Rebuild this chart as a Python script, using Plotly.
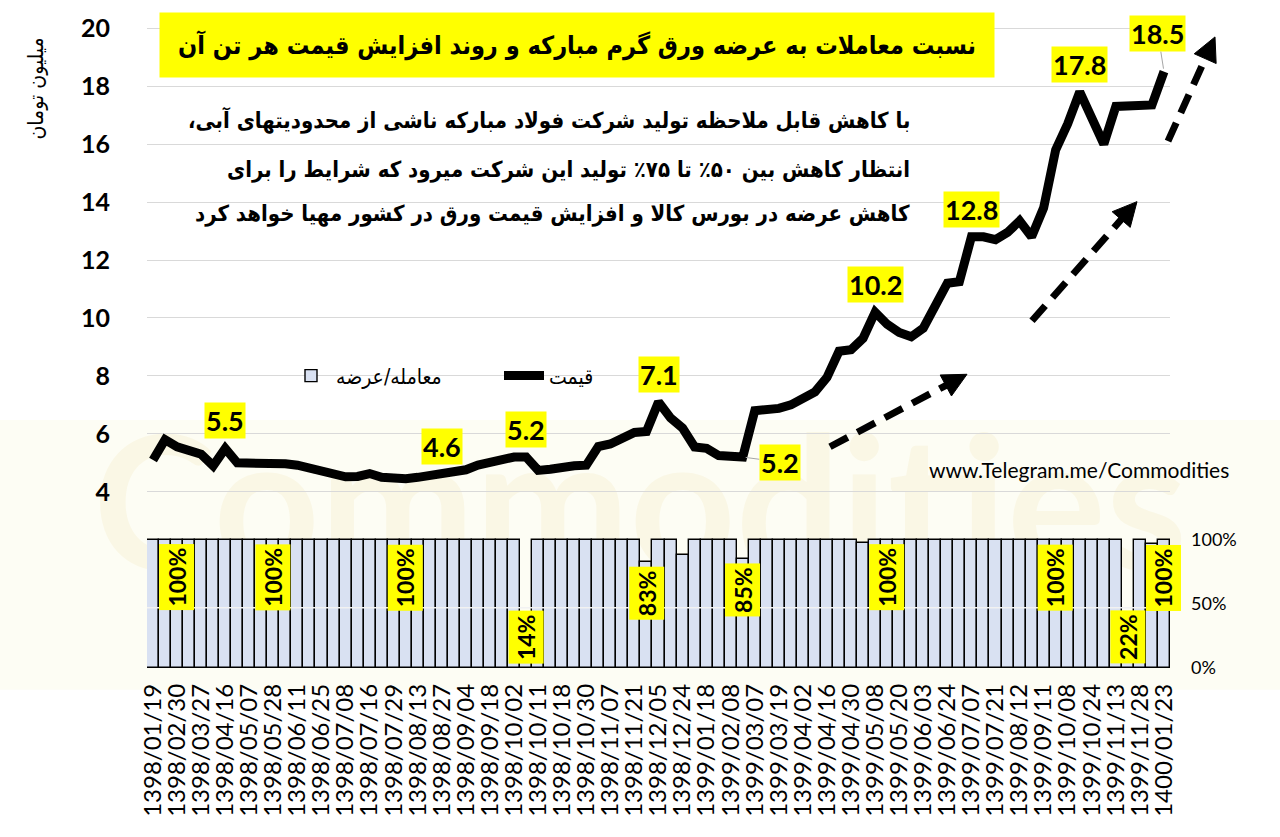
import plotly.graph_objects as go

# ---- data -------------------------------------------------------------
tick_dates = [
    "1398/01/19", "1398/02/30", "1398/03/27", "1398/04/16", "1398/05/07",
    "1398/05/28", "1398/06/11", "1398/06/25", "1398/07/08", "1398/07/16",
    "1398/07/29", "1398/08/13", "1398/08/27", "1398/09/04", "1398/09/18",
    "1398/10/02", "1398/10/11", "1398/10/18", "1398/10/30", "1398/11/07",
    "1398/11/21", "1398/12/05", "1398/12/24", "1399/01/18", "1399/02/08",
    "1399/03/07", "1399/03/19", "1399/04/02", "1399/04/16", "1399/04/30",
    "1399/05/08", "1399/05/20", "1399/06/03", "1399/06/24", "1399/07/07",
    "1399/07/21", "1399/08/12", "1399/09/11", "1399/10/08", "1399/10/24",
    "1399/11/13", "1399/11/28", "1400/01/23",
]

# price per tonne (million toman), one value per trading session
price = [
    5.1, 5.8, 5.55, 5.4, 5.3, 4.9, 5.5, 5.0, 5.0, 5.0,
    5.0, 4.97, 4.92, 4.82, 4.7, 4.58, 4.52, 4.53, 4.63, 4.5,
    4.45, 4.45, 4.5, 4.55, 4.6, 4.64, 4.76, 4.92, 5.04, 5.12,
    5.2, 5.2, 4.74, 4.78, 4.86, 4.9, 4.92, 5.56, 5.65, 5.88,
    6.05, 6.08, 7.1, 6.55, 6.2, 5.55, 5.5, 5.25, 5.2, 5.2,
    6.8, 6.82, 6.88, 7.0, 7.2, 7.45, 7.95, 8.85, 8.9, 9.3,
    10.2, 9.78, 9.5, 9.35, 9.65, 10.45, 11.2, 11.25, 12.8, 12.8,
    12.7, 12.95, 13.35, 12.8, 13.8, 15.8, 16.7, 17.8, 16.9, 16.0,
    17.3, 17.3, 17.3, 17.35, 18.5,
]

# traded / offered ratio (%)
ratio = [100] * 85
for idx, val in {31: 14, 41: 83, 44: 88, 49: 85, 59: 98, 81: 22, 83: 97}.items():
    ratio[idx] = val

price_labeled = [6, 24, 31, 42, 49, 60, 68, 77, 84]
ratio_labeled = [2, 10, 21, 31, 41, 49, 61, 75, 81, 84]

n = len(price)
cats = list(range(n))
tick_pos = list(range(0, n, 2))

# ---- geometry helpers -------------------------------------------------
W, H = 1280, 837
ML, MR, MT, MB = 147, 110, 20, 169
PW, PH = W - ML - MR, H - MT - MB


def pxx(x):
    return (x - ML) / PW


def pxy(y):
    return (H - MB - y) / PH


NUM_FONT = "Lato, DejaVu Sans, sans-serif"
FA_FONT = "DejaVu Sans Condensed, DejaVu Sans, sans-serif"
YELLOW = "#FFFF00"
RLM = "\u200f"

fig = go.Figure()

fig.add_trace(go.Bar(
    x=cats, y=ratio, yaxis="y2", name="معامله/عرضه",
    marker=dict(color="#D9E1F2", line=dict(color="black", width=1.4)),
    width=1.0,
))
fig.add_trace(go.Scatter(
    x=cats, y=price, mode="lines", name="قیمت",
    line=dict(color="black", width=9),
))

annotations = []

# value labels on the price line
for i in price_labeled:
    txt = f"{price[i]:.1f}"
    base = dict(x=i, y=price[i], xref="x", yref="y", text=txt,
                font=dict(family=NUM_FONT, size=27, color="black", weight="bold"),
                bgcolor=YELLOW, borderpad=1)
    if i == 49:
        base.update(showarrow=True, ax=37, ay=5, arrowhead=0, arrowwidth=1,
                    arrowcolor="#A6A6A6", standoff=3)
    elif i == n - 1:
        base.update(showarrow=True, ax=-6, ay=-38, arrowhead=0, arrowwidth=1,
                    arrowcolor="#A6A6A6", standoff=3)
    else:
        base.update(showarrow=False, yanchor="bottom", yshift=9)
    annotations.append(base)

# ratio labels inside the bars
for i in ratio_labeled:
    v = ratio[i]
    a = dict(x=i, xref="x", yref="y2", text=f"{v:.0f}%", textangle=-90,
             showarrow=False, bgcolor=YELLOW, borderpad=3,
             font=dict(family=NUM_FONT, size=23, color="black", weight="bold"))
    if v >= 50:
        a.update(y=v, yanchor="top", yshift=-4)
    else:
        a.update(y=0, yanchor="bottom", yshift=4)
    annotations.append(a)

# title
annotations.append(dict(
    x=pxx(577), y=pxy(40), xref="paper", yref="paper", showarrow=False,
    text="نسبت معاملات به عرضه ورق گرم مبارکه و روند افزایش قیمت هر تن آن",
    font=dict(family=FA_FONT, size=25, color="black", weight="bold"),
    bgcolor=YELLOW, width=832, height=62, xanchor="center", yanchor="middle",
))

# commentary lines
notes = [
    ("با کاهش قابل ملاحظه تولید شرکت فولاد مبارکه ناشی از محدودیتهای آبی،" + RLM, 116),
    ("انتظار کاهش بین ۵۰٪ تا ۷۵٪ تولید این شرکت میرود که شرایط را برای", 166),
    ("کاهش عرضه در بورس کالا و افزایش قیمت ورق در کشور مهیا خواهد کرد", 210),
]
for t, yy in notes:
    annotations.append(dict(
        x=pxx(912), y=pxy(yy), xref="paper", yref="paper", showarrow=False,
        text=t, xanchor="right", yanchor="middle",
        font=dict(family=FA_FONT, size=22, color="black", weight="bold"),
    ))

# axis title
annotations.append(dict(
    x=pxx(36), y=pxy(84), xref="paper", yref="paper", showarrow=False,
    text="میلیون تومان", textangle=-90, xanchor="center", yanchor="middle",
    font=dict(family=FA_FONT, size=21, color="black"),
))

# channel address
annotations.append(dict(
    x=pxx(1231), y=pxy(468), xref="paper", yref="paper", showarrow=False,
    text="www.Telegram.me/Commodities", xanchor="right", yanchor="middle",
    font=dict(family=NUM_FONT, size=21, color="black"),
))

shapes = []

# faint background band with the channel watermark
shapes.append(dict(
    type="rect", xref="paper", yref="paper", layer="below",
    x0=pxx(0), x1=pxx(W), y0=pxy(690), y1=pxy(418),
    fillcolor="#FDFDF4", line=dict(width=0),
))
shapes.append(dict(
    type="rect", xref="paper", yref="paper", layer="below",
    x0=pxx(0), x1=pxx(W), y0=pxy(570), y1=pxy(420),
    fillcolor="rgba(0,0,0,0)", line=dict(width=0),
    label=dict(text="Commodities", font=dict(family="Lato", size=185,
               color="#FAF7E5", weight="bold"), textposition="middle center"),
))

# zero line of the price axis, running across the bars
shapes.append(dict(
    type="line", xref="paper", yref="y", x0=0, x1=1, y0=0, y1=0,
    line=dict(color="#F2F2F2", width=1.5), layer="above",
))

# dashed trend arrows
arrows = [((830, 445), (967, 372)), ((1032, 318), (1137, 198)), ((1168, 137), (1215, 32))]
for (x0, y0), (x1, y1) in arrows:
    dx, dy = x1 - x0, y1 - y0
    ln = (dx * dx + dy * dy) ** 0.5
    ux, uy = dx / ln, dy / ln
    hl, hw = 24, 12
    bx, by = x1 - ux * hl, y1 - uy * hl
    shapes.append(dict(
        type="line", xref="paper", yref="paper",
        x0=pxx(x0), y0=pxy(y0), x1=pxx(bx + ux * 2), y1=pxy(by + uy * 2),
        line=dict(color="black", width=7, dash="20px,11px"),
    ))
    p1 = (bx - uy * hw, by + ux * hw)
    p2 = (bx + uy * hw, by - ux * hw)
    path = (f"M {pxx(x1)},{pxy(y1)} L {pxx(p1[0])},{pxy(p1[1])} "
            f"L {pxx(p2[0])},{pxy(p2[1])} Z")
    shapes.append(dict(type="path", xref="paper", yref="paper", path=path,
                       fillcolor="black", line=dict(color="black", width=1)))

fig.update_layout(
    width=W, height=H,
    margin=dict(l=ML, r=MR, t=MT, b=MB, pad=0),
    paper_bgcolor="white", plot_bgcolor="rgba(0,0,0,0)",
    bargap=0,
    showlegend=True,
    legend=dict(orientation="h", x=pxx(286), y=pxy(353), xanchor="left",
                yanchor="top", bgcolor="rgba(0,0,0,0)",
                font=dict(family=FA_FONT, size=21, color="black"),
                itemwidth=40, entrywidth=158, entrywidthmode="pixels",
                traceorder="normal"),
    xaxis=dict(range=[-0.5, n - 0.5], tickmode="array", tickvals=tick_pos,
               ticktext=tick_dates, tickangle=-90, showgrid=False,
               zeroline=False, showline=False, ticks="",
               ticklabelstandoff=10,
               tickfont=dict(family=NUM_FONT, size=24, color="black")),
    yaxis=dict(range=[-2.08, 20.11], tickmode="array",
               tickvals=list(range(4, 21, 2)), showgrid=True,
               gridcolor="#D9D9D9", gridwidth=1, zeroline=False,
               showline=False, ticks="", ticklabelstandoff=36,
               tickfont=dict(family=NUM_FONT, size=25, color="black",
                             weight="bold")),
    yaxis2=dict(range=[0, 502.3], overlaying="y", side="right",
                tickmode="array", tickvals=[0, 50, 100],
                ticktext=["0%", "50%", "100%"], showgrid=False,
                zeroline=False, showline=False, ticks="",
                ticklabelstandoff=20,
                tickfont=dict(family=NUM_FONT, size=18, color="black")),
    annotations=annotations,
    shapes=shapes,
)

fig.write_html("out.html")
